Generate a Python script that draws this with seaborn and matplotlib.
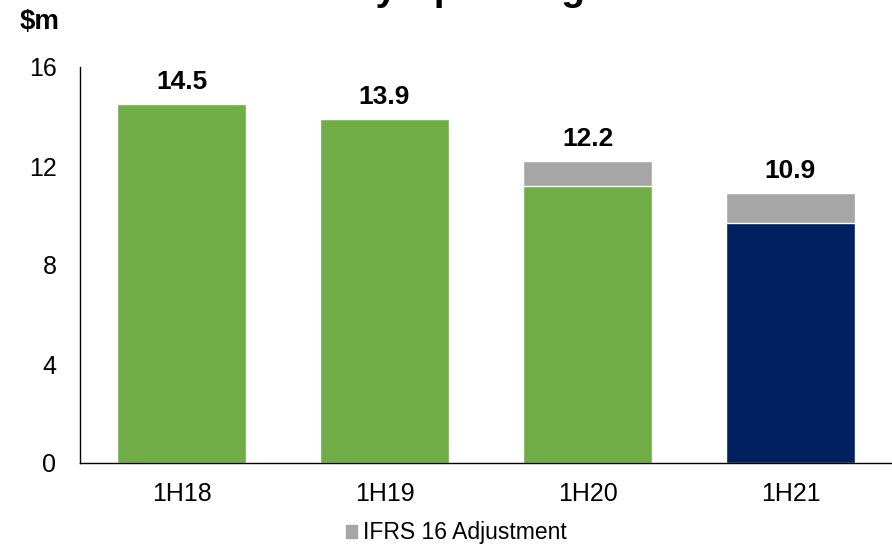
import matplotlib
matplotlib.use("Agg")
import matplotlib.pyplot as plt
import seaborn as sns
from matplotlib.patches import Patch

categories = ["1H18", "1H19", "1H20", "1H21"]
totals = [14.5, 13.9, 12.2, 10.9]
base_values = [14.5, 13.9, 11.2, 9.7]
base_colors = ["#70AD47", "#70AD47", "#70AD47", "#002060"]
ifrs_color = "#A6A6A6"
yticks = [0, 4, 8, 12, 16]

sns.set_theme(style="white")
plt.rcParams["font.family"] = ["Liberation Sans", "DejaVu Sans"]
plt.rcParams["text.color"] = "black"
plt.rcParams["xtick.color"] = "black"
plt.rcParams["ytick.color"] = "black"

fig = plt.figure(figsize=(8.92, 5.47), dpi=100)
ax = fig.add_axes([80 / 892, 1 - 463 / 547, 812 / 892, 396 / 547])

# grey IFRS 16 segment = full total, covered below by the base bar
sns.barplot(x=categories, y=totals, color=ifrs_color, width=0.635,
            saturation=1, ax=ax)
sns.barplot(x=categories, y=base_values, hue=categories, palette=base_colors,
            width=0.635, saturation=1, legend=False, ax=ax)

for i, v in enumerate(totals):
    ax.annotate(f"{v:.1f}", (i, v), xytext=(0, 11), textcoords="offset points",
                ha="center", va="baseline", fontsize=19, fontweight="bold",
                color="black")

ax.set_xlim(-0.5, 3.5)
ax.set_ylim(0, 16)
ax.set_yticks(yticks)
ax.set_yticklabels([str(t) for t in yticks], fontsize=18)
ax.tick_params(axis="x", labelsize=18, length=0, pad=14, labelcolor="black")
ax.tick_params(axis="y", length=0, pad=17, labelcolor="black")
ax.set_xlabel("")
ax.set_ylabel("")
for side in ["top", "right"]:
    ax.spines[side].set_visible(False)
for side in ["left", "bottom"]:
    ax.spines[side].set_color("black")
    ax.spines[side].set_linewidth(1)

fig.text(20 / 892, 1 - 22 / 547, "$m", fontsize=20, fontweight="bold",
         ha="left", va="center", color="black")
fig.text(475 / 892, 1 + 0.5 / 547, "Monthly Spending Trend", fontsize=28,
         fontweight="bold", ha="center", va="baseline", color="black")

fig.legend(handles=[Patch(color=ifrs_color, label="IFRS 16 Adjustment")],
           loc="center", bbox_to_anchor=(456 / 892, 1 - 533 / 547),
           frameon=False, fontsize=16.5, handlelength=0.5, handleheight=0.5,
           handletextpad=0.25, labelcolor="black")

fig.savefig("out.png", dpi=100)
